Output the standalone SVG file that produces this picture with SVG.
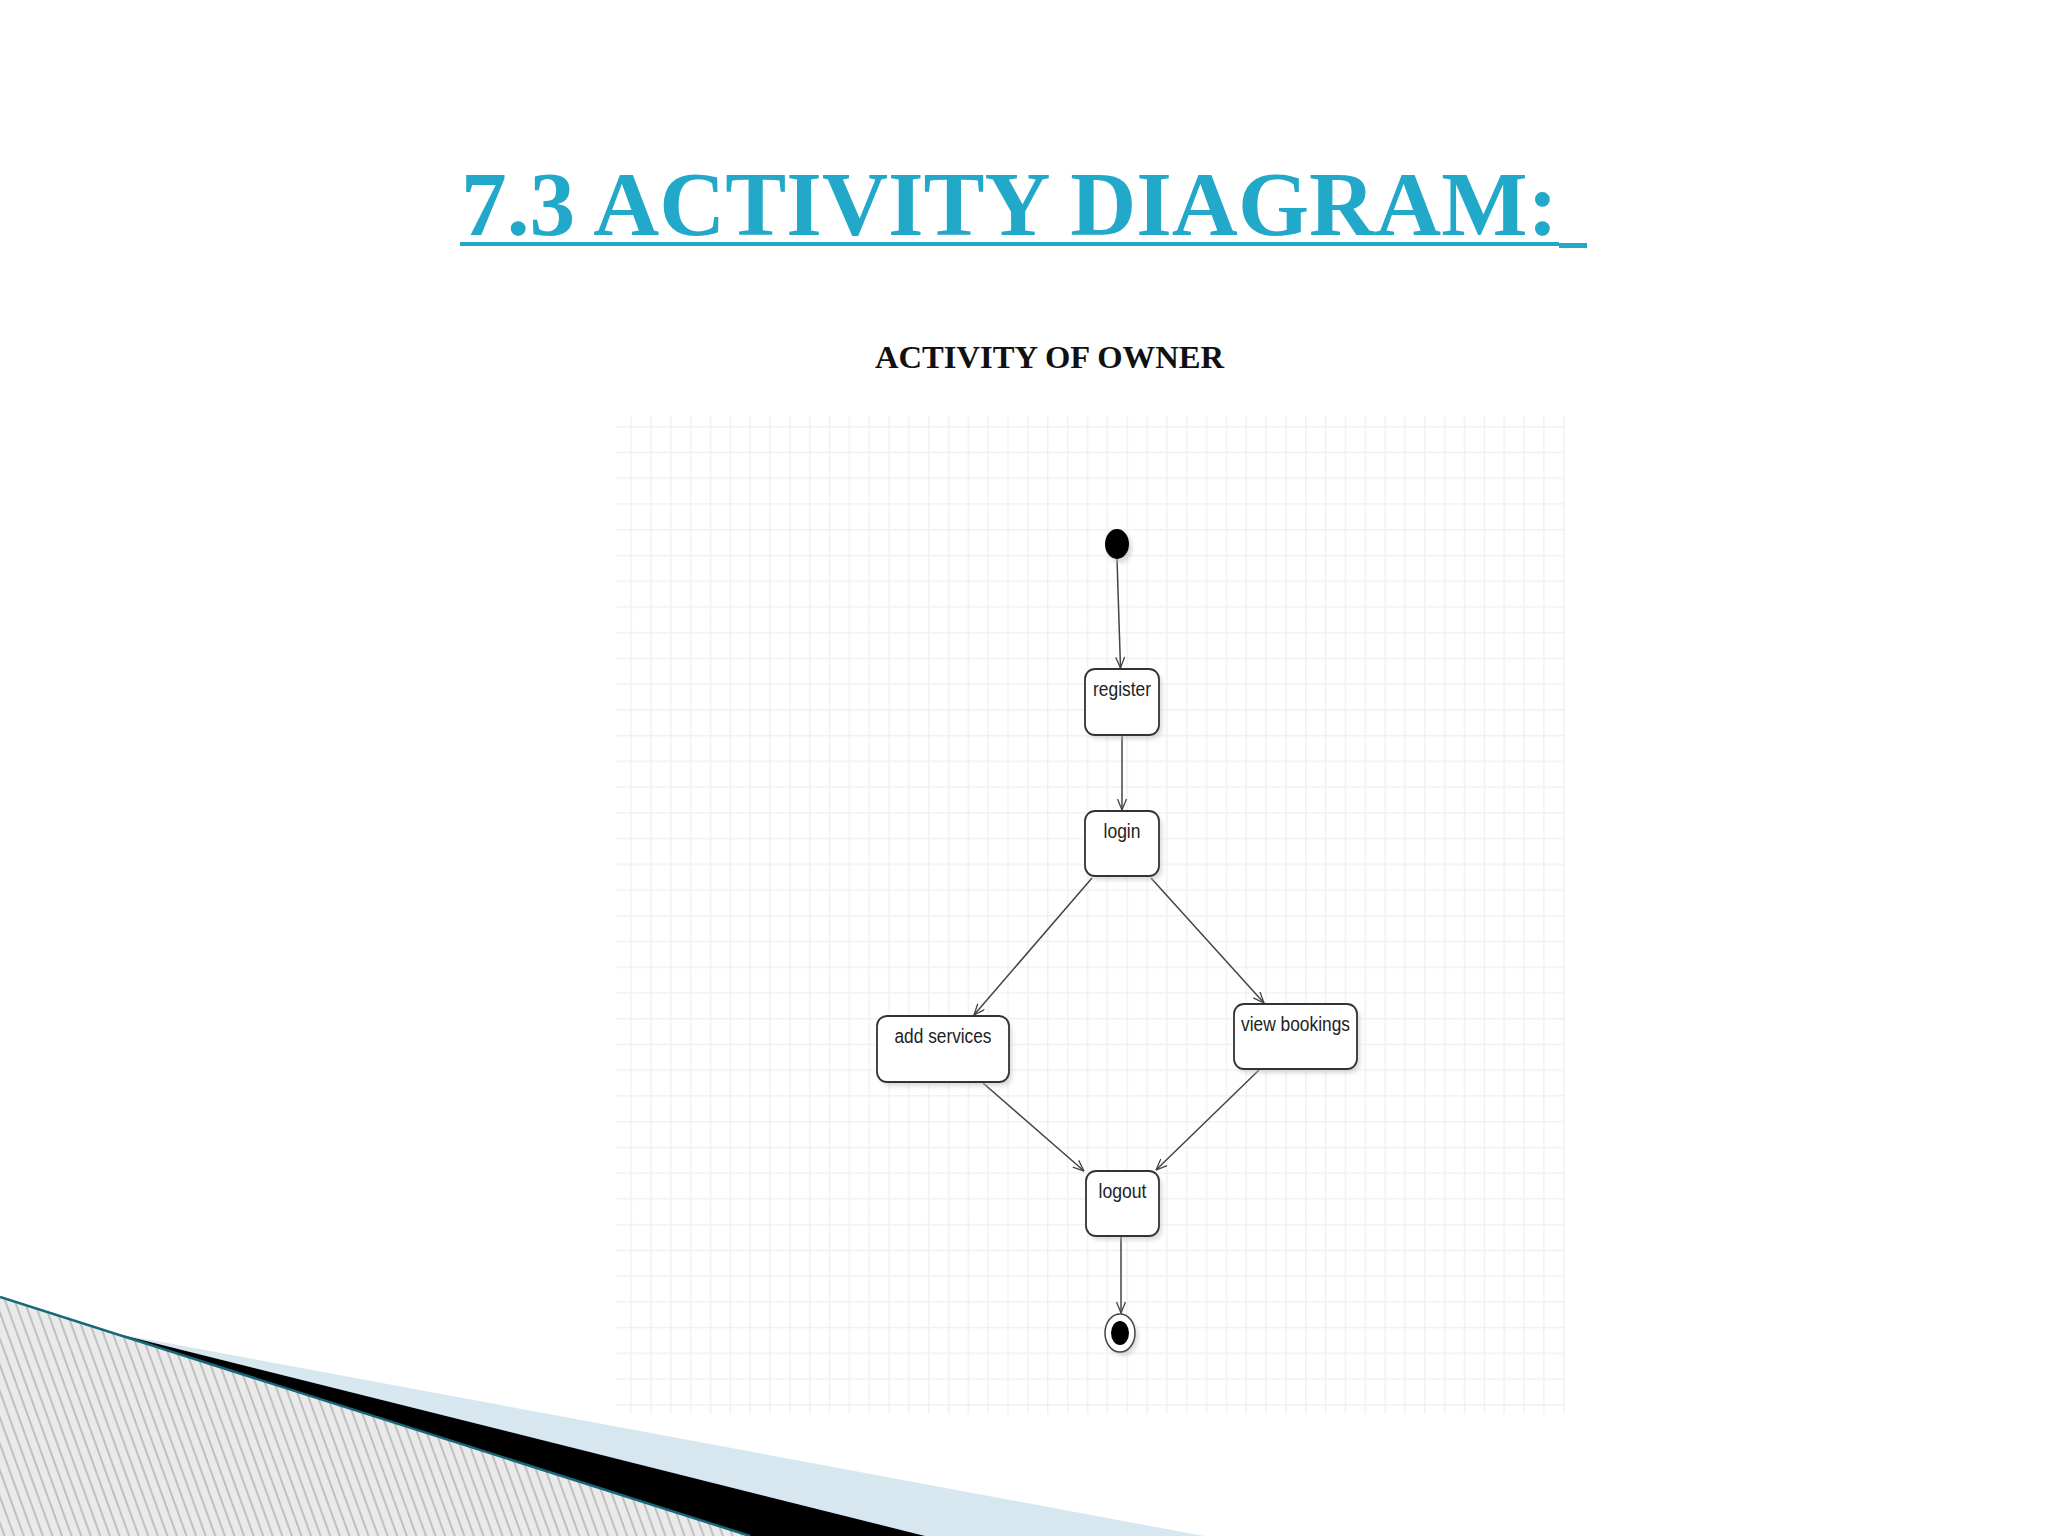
<svg xmlns="http://www.w3.org/2000/svg" width="2048" height="1536" viewBox="0 0 2048 1536">
<style>
.title{font-family:"Liberation Serif","Times New Roman",serif;font-weight:bold;font-size:91px;fill:#22A9CA}
.sub{font-family:"Liberation Serif","Times New Roman",serif;font-weight:bold;font-size:31px;fill:#111}
.box{fill:#fff;stroke:#333;stroke-width:1.8}
.shadow{fill:#bbb;opacity:0.55}
.lbl{font-family:"Liberation Sans",Arial,sans-serif;font-size:20px;fill:#222;text-anchor:middle}
.conn{stroke:#444;stroke-width:1.5;fill:none;marker-end:url(#arr)}
</style>
<defs>
<pattern id="grid" x="630.3" y="426" width="19.844" height="25.737" patternUnits="userSpaceOnUse">
<path d="M0.75 0 V25.737 M0 0.75 H19.844" stroke="#F1F1F1" stroke-width="1.5" fill="none"/>
</pattern>
<pattern id="hatch" width="9" height="20" patternUnits="userSpaceOnUse" patternTransform="rotate(-20)">
<rect width="9" height="20" fill="#EAEAEA"/>
<line x1="1" y1="0" x2="1" y2="20" stroke="#A4A4A4" stroke-width="1.2"/>
</pattern>
<filter id="blur" x="-20%" y="-20%" width="140%" height="140%">
<feGaussianBlur stdDeviation="2"/>
</filter>
<marker id="arr" viewBox="0 0 12 10" refX="11.5" refY="5" markerWidth="12" markerHeight="10" markerUnits="userSpaceOnUse" orient="auto">
<path d="M0.5 0.5 L11.5 5 L0.5 9.5" fill="none" stroke="#444" stroke-width="1.3"/>
</marker>
</defs>
<rect width="2048" height="1536" fill="#fff"/>

<g id="decoration">
<polygon points="0,1297 750,1536 0,1536" fill="url(#hatch)"/>
<polygon points="108,1332 1204,1536 925,1536" fill="#D6E7EF"/>
<polygon points="108,1331.5 925,1536 750,1536" fill="#000"/>
<line x1="0" y1="1297" x2="750" y2="1536" stroke="#17687A" stroke-width="2.5"/>
</g>

<g id="heading">
<text class="title" x="461" y="235" textLength="1097" lengthAdjust="spacingAndGlyphs">7.3 ACTIVITY DIAGRAM:</text>
<rect x="460" y="242" width="1099" height="4" fill="#22A9CA"/>
<rect x="1559" y="243" width="28" height="5" fill="#22A9CA"/>
<text class="sub" x="875" y="368" textLength="349" lengthAdjust="spacingAndGlyphs">ACTIVITY OF OWNER</text>
</g>

<g id="canvas">
<rect x="616" y="416" width="949" height="998" fill="url(#grid)"/>
</g>

<g id="connectors">
<line class="conn" x1="1117" y1="559" x2="1120.5" y2="668"/>
<line class="conn" x1="1122" y1="735" x2="1122" y2="810"/>
<line class="conn" x1="1092" y1="878" x2="974" y2="1015"/>
<line class="conn" x1="1151" y1="878" x2="1264" y2="1003"/>
<line class="conn" x1="983" y1="1083" x2="1084" y2="1171"/>
<line class="conn" x1="1259" y1="1070" x2="1156" y2="1170"/>
<line class="conn" x1="1121" y1="1236" x2="1121" y2="1313"/>
</g>

<g id="start">
<ellipse class="shadow" cx="1120" cy="548" rx="12" ry="15" filter="url(#blur)"/>
<ellipse cx="1117" cy="544" rx="12" ry="15" fill="#000"/>
</g>

<g id="register">
<rect class="shadow" x="1088" y="673" width="74" height="66" rx="10" filter="url(#blur)"/>
<rect class="box" x="1085" y="669" width="74" height="66" rx="10"/>
<text class="lbl" x="1122" y="696" textLength="58" lengthAdjust="spacingAndGlyphs">register</text>
</g>

<g id="login">
<rect class="shadow" x="1088" y="815" width="74" height="65" rx="10" filter="url(#blur)"/>
<rect class="box" x="1085" y="811" width="74" height="65" rx="10"/>
<text class="lbl" x="1122" y="838" textLength="37" lengthAdjust="spacingAndGlyphs">login</text>
</g>

<g id="add-services">
<rect class="shadow" x="880" y="1020" width="132" height="66" rx="10" filter="url(#blur)"/>
<rect class="box" x="877" y="1016" width="132" height="66" rx="10"/>
<text class="lbl" x="943" y="1043" textLength="97" lengthAdjust="spacingAndGlyphs">add services</text>
</g>

<g id="view-bookings">
<rect class="shadow" x="1237" y="1008" width="123" height="65" rx="10" filter="url(#blur)"/>
<rect class="box" x="1234" y="1004" width="123" height="65" rx="10"/>
<text class="lbl" x="1295.5" y="1031" textLength="109" lengthAdjust="spacingAndGlyphs">view bookings</text>
</g>

<g id="logout">
<rect class="shadow" x="1089" y="1175" width="73" height="65" rx="10" filter="url(#blur)"/>
<rect class="box" x="1086" y="1171" width="73" height="65" rx="10"/>
<text class="lbl" x="1122.5" y="1198" textLength="48" lengthAdjust="spacingAndGlyphs">logout</text>
</g>

<g id="end">
<ellipse class="shadow" cx="1123" cy="1337" rx="15" ry="19" filter="url(#blur)"/>
<ellipse cx="1120" cy="1333" rx="15" ry="19" fill="#fff" stroke="#444" stroke-width="1.5"/>
<ellipse cx="1120" cy="1333" rx="9" ry="12" fill="#000"/>
</g>
</svg>
